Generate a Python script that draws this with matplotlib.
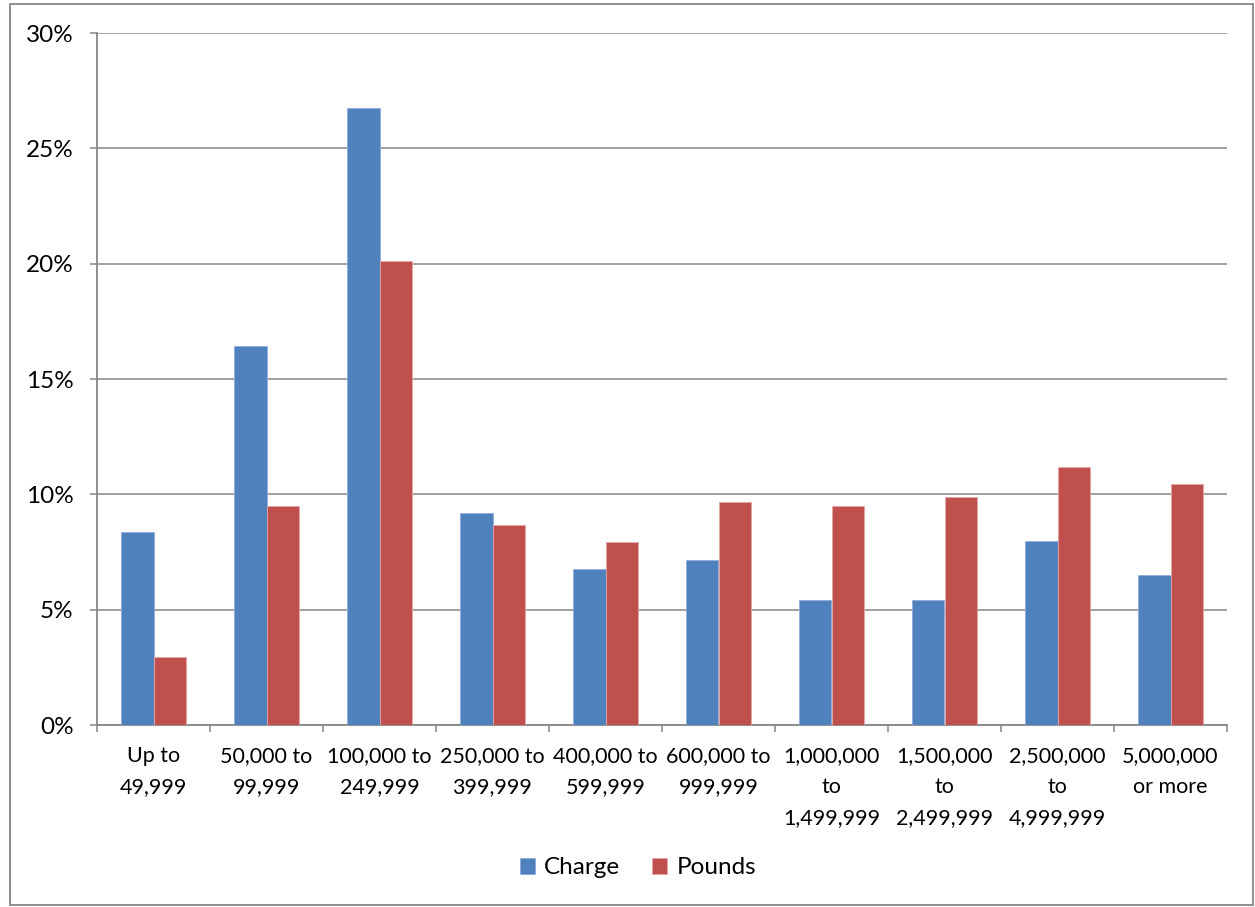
import matplotlib
matplotlib.use("Agg")
import matplotlib.pyplot as plt
import numpy as np
from matplotlib.patches import Rectangle
from matplotlib.ticker import FuncFormatter

plt.rcParams['font.family'] = ['Lato', 'DejaVu Sans']

# data
categories = ["Up to\n49,999", "50,000 to\n99,999", "100,000 to\n249,999",
              "250,000 to\n399,999", "400,000 to\n599,999", "600,000 to\n999,999",
              "1,000,000\nto\n1,499,999", "1,500,000\nto\n2,499,999",
              "2,500,000\nto\n4,999,999", "5,000,000\nor more"]
charge = [8.35, 16.44, 26.73, 9.19, 6.78, 7.14, 5.42, 5.43, 7.98, 6.49]
pounds = [2.95, 9.49, 20.13, 8.68, 7.95, 9.65, 9.49, 9.90, 11.18, 10.45]

blue = "#4F81BD"
red = "#C0504D"
grey = "#868686"

fig = plt.figure(figsize=(12.55, 9.07), dpi=100)
ax = fig.add_axes([97/1255, 1-725/907, 1130/1255, 692/907])

x = np.arange(len(categories))
w = 1/3.5
ax.bar(x - w/2, charge, w, color=blue, edgecolor="#8FAEDB", linewidth=0.6, label="Charge", zorder=3)
ax.bar(x + w/2, pounds, w, color=red, edgecolor="#E6A6A4", linewidth=0.6, label="Pounds", zorder=3)

ax.set_xlim(-0.5, len(categories) - 0.5)
ax.set_ylim(0, 30)
ax.set_yticks(np.arange(0, 31, 5))
ax.yaxis.set_major_formatter(FuncFormatter(lambda v, p: "%d%%" % v))
ax.grid(axis="y", color=grey, linewidth=1.1, zorder=0)

ax.set_xticks(x)
ax.set_xticklabels(categories, fontsize=15.5, linespacing=1.7, va="top")
ax.set_xticks(np.arange(-0.5, len(categories)), minor=True)
ax.tick_params(axis="x", which="major", length=0, pad=15)
ax.tick_params(axis="x", which="minor", length=5, width=1.1, color=grey)
ax.tick_params(axis="y", length=5, width=1.1, color=grey, labelsize=17.5, pad=12)

for s in ["top", "right"]:
    ax.spines[s].set_visible(False)
for s in ["left", "bottom"]:
    ax.spines[s].set_color(grey)
    ax.spines[s].set_linewidth(1.3)

fig.legend(loc="center", bbox_to_anchor=(638/1255, 1-868/907), ncol=2, frameon=False,
           fontsize=17.5, handlelength=0.6, handleheight=0.6, handletextpad=0.4,
           columnspacing=1.3)

fig.patches.append(Rectangle((10/1255, 2/907), 1243/1255, 901/907, transform=fig.transFigure,
                             fill=False, edgecolor=grey, linewidth=1.3))

fig.savefig("out.png", dpi=100)
